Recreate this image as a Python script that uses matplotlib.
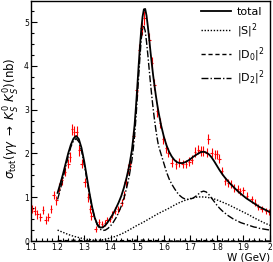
import matplotlib
matplotlib.use('Agg')
import matplotlib.pyplot as plt
from matplotlib.ticker import MultipleLocator

# measured points (W in GeV, cross section in nb)
data_w = [1.104, 1.114, 1.124, 1.135, 1.145, 1.155, 1.165, 1.175, 1.185, 1.195,
          1.205, 1.216, 1.228, 1.240, 1.247, 1.255, 1.262, 1.272, 1.282, 1.291,
          1.302, 1.315, 1.323, 1.327, 1.344, 1.356, 1.367, 1.380, 1.385, 1.397,
          1.405, 1.416, 1.429, 1.441, 1.450, 1.456, 1.466, 1.473, 1.485, 1.498,
          1.507, 1.517, 1.527, 1.545, 1.555, 1.565, 1.575, 1.586, 1.598, 1.608,
          1.617, 1.630, 1.646, 1.658, 1.671, 1.684, 1.696, 1.705, 1.717, 1.730,
          1.739, 1.749, 1.761, 1.768, 1.780, 1.793, 1.801, 1.809, 1.818, 1.830,
          1.843, 1.853, 1.864, 1.878, 1.887, 1.899, 1.914, 1.931, 1.943, 1.956,
          1.969, 1.985, 1.997]
data_sig = [0.73, 0.69, 0.61, 0.55, 0.71, 0.48, 0.55, 0.73, 1.05, 0.93,
            1.22, 1.39, 1.58, 1.77, 1.92, 2.55, 2.50, 2.50, 2.07, 1.77,
            1.34, 1.00, 0.74, 0.58, 0.27, 0.43, 0.39, 0.41, 0.48, 0.50,
            0.60, 0.69, 0.73, 0.88, 1.05, 1.34, 1.64, 1.75, 2.39, 3.45,
            4.36, 4.86, 5.10, 4.59, 4.06, 3.57, 2.96, 2.70, 2.32, 2.13,
            2.02, 1.79, 1.75, 1.80, 1.76, 1.76, 1.81, 1.86, 2.03, 2.09,
            2.05, 2.05, 2.02, 2.33, 2.02, 1.98, 1.98, 1.88, 1.60, 1.37,
            1.33, 1.30, 1.22, 1.18, 1.14, 1.16, 1.03, 0.95, 0.88, 0.77,
            0.74, 0.69, 0.67]
data_err = [0.10, 0.10, 0.10, 0.10, 0.10, 0.09, 0.09, 0.10, 0.10, 0.10,
            0.10, 0.10, 0.10, 0.11, 0.11, 0.13, 0.13, 0.13, 0.12, 0.11,
            0.10, 0.10, 0.09, 0.09, 0.07, 0.07, 0.07, 0.07, 0.07, 0.07,
            0.08, 0.08, 0.08, 0.09, 0.09, 0.10, 0.11, 0.11, 0.13, 0.15,
            0.15, 0.15, 0.16, 0.15, 0.14, 0.13, 0.12, 0.12, 0.11, 0.11,
            0.10, 0.10, 0.10, 0.10, 0.10, 0.10, 0.10, 0.10, 0.11, 0.11,
            0.11, 0.11, 0.11, 0.12, 0.11, 0.10, 0.10, 0.10, 0.10, 0.09,
            0.09, 0.09, 0.09, 0.09, 0.08, 0.08, 0.08, 0.08, 0.07, 0.07,
            0.07, 0.07, 0.07]

# fit curves
fit_w = [1.20, 1.21, 1.22, 1.23, 1.24, 1.25, 1.26, 1.27, 1.28, 1.29,
         1.30, 1.31, 1.32, 1.33, 1.34, 1.35, 1.36, 1.37, 1.38, 1.39,
         1.40, 1.41, 1.42, 1.43, 1.44, 1.45, 1.46, 1.47, 1.48, 1.485,
         1.49, 1.495, 1.50, 1.505, 1.51, 1.515, 1.52, 1.525, 1.53, 1.535,
         1.54, 1.545, 1.55, 1.555, 1.56, 1.565, 1.57, 1.575, 1.58, 1.59,
         1.60, 1.61, 1.62, 1.63, 1.64, 1.65, 1.66, 1.67, 1.68, 1.69,
         1.70, 1.71, 1.72, 1.73, 1.74, 1.75, 1.76, 1.77, 1.78, 1.79,
         1.80, 1.81, 1.82, 1.83, 1.84, 1.85, 1.86, 1.87, 1.88, 1.89,
         1.90, 1.91, 1.92, 1.93, 1.94, 1.95, 1.96, 1.97, 1.98, 1.99, 2.00]
total = [1.10, 1.30, 1.52, 1.76, 2.00, 2.20, 2.34, 2.40, 2.33, 2.13,
         1.83, 1.47, 1.10, 0.78, 0.53, 0.38, 0.31, 0.31, 0.36, 0.44,
         0.53, 0.63, 0.75, 0.88, 1.03, 1.22, 1.45, 1.72, 2.08, 2.35,
         2.65, 3.05, 3.50, 3.98, 4.42, 4.82, 5.12, 5.29, 5.30, 5.15,
         4.90, 4.62, 4.32, 4.04, 3.78, 3.55, 3.33, 3.13, 2.95, 2.64,
         2.39, 2.19, 2.04, 1.93, 1.85, 1.80, 1.78, 1.78, 1.80, 1.83,
         1.87, 1.92, 1.96, 2.00, 2.03, 2.04, 2.02, 1.98, 1.91, 1.82,
         1.72, 1.62, 1.53, 1.45, 1.38, 1.31, 1.25, 1.19, 1.13, 1.08,
         1.03, 0.98, 0.94, 0.90, 0.86, 0.82, 0.78, 0.75, 0.72, 0.69, 0.66]
d2 = [0.95, 1.17, 1.42, 1.68, 1.93, 2.15, 2.29, 2.34, 2.27, 2.07,
      1.77, 1.42, 1.07, 0.76, 0.52, 0.36, 0.27, 0.24, 0.25, 0.29,
      0.35, 0.43, 0.53, 0.65, 0.80, 0.98, 1.21, 1.49, 1.85, 2.10,
      2.40, 2.80, 3.25, 3.72, 4.18, 4.60, 4.85, 4.90, 4.80, 4.55,
      4.25, 3.92, 3.60, 3.30, 3.02, 2.77, 2.55, 2.35, 2.18, 1.98,
      1.78, 1.58, 1.42, 1.30, 1.20, 1.11, 1.04, 0.99, 0.96, 0.95,
      0.96, 0.98, 1.02, 1.07, 1.12, 1.14, 1.12, 1.06, 0.98, 0.90,
      0.82, 0.75, 0.69, 0.64, 0.59, 0.55, 0.51, 0.48, 0.45, 0.42,
      0.40, 0.38, 0.36, 0.34, 0.32, 0.31, 0.29, 0.28, 0.27, 0.26, 0.25]

s_w = [1.20, 1.22, 1.24, 1.26, 1.28, 1.30, 1.32, 1.34, 1.36, 1.38,
       1.40, 1.42, 1.44, 1.46, 1.48, 1.50, 1.52, 1.54, 1.56, 1.58,
       1.60, 1.62, 1.64, 1.66, 1.68, 1.70, 1.72, 1.74, 1.76, 1.78,
       1.80, 1.82, 1.84, 1.86, 1.88, 1.90, 1.92, 1.94, 1.96, 1.98, 2.00]
s_wave = [0.25, 0.20, 0.15, 0.11, 0.08, 0.05, 0.03, 0.02, 0.02, 0.04,
          0.07, 0.11, 0.16, 0.22, 0.29, 0.36, 0.42, 0.49, 0.56, 0.63,
          0.69, 0.75, 0.82, 0.88, 0.93, 0.97, 1.00, 1.01, 1.00, 0.98,
          0.94, 0.89, 0.84, 0.78, 0.72, 0.66, 0.60, 0.53, 0.47, 0.41, 0.36]
d0 = [0.01, 0.01, 0.01, 0.02, 0.01, 0.01, 0.00, 0.00, 0.00, 0.00,
      0.00, 0.00, 0.01, 0.01, 0.01, 0.02, 0.02, 0.01, 0.01, 0.01,
      0.01, 0.00, 0.00, 0.00, 0.00, 0.00, 0.00, 0.01, 0.01, 0.01,
      0.01, 0.00, 0.00, 0.00, 0.00, 0.00, 0.00, 0.00, 0.00, 0.00, 0.00]

fig = plt.figure(figsize=(2.73, 2.62), dpi=100)
ax = fig.add_axes([0.1136, 0.080, 0.8754, 0.916])

ax.errorbar(data_w, data_sig, xerr=0.005, yerr=data_err, fmt='none',
            ecolor='red', elinewidth=0.8, capsize=0)
ax.plot(fit_w, total, color='black', lw=1.3, label='total')
ax.plot(s_w, s_wave, color='black', lw=1.0, linestyle=(0, (1, 1.2)), label='|S|$^2$')
ax.plot(s_w, d0, color='black', lw=1.0, linestyle=(0, (3, 2)), label='|D$_0$|$^2$')
ax.plot(fit_w, d2, color='black', lw=1.0, linestyle=(0, (5, 1.5, 1, 1.5)), label='|D$_2$|$^2$')

ax.set_xlim(1.1, 2.0)
ax.set_ylim(0, 5.48)
ax.xaxis.set_major_locator(MultipleLocator(0.1))
ax.xaxis.set_minor_locator(MultipleLocator(0.02))
ax.yaxis.set_major_locator(MultipleLocator(1))
ax.yaxis.set_minor_locator(MultipleLocator(0.25))
ax.tick_params(which='both', direction='in', labelsize=5.5, width=0.8, pad=1.5)
ax.tick_params(which='major', length=4)
ax.tick_params(which='minor', length=2)
ax.set_xticks([1.1, 1.2, 1.3, 1.4, 1.5, 1.6, 1.7, 1.8, 1.9, 2.0])
ax.set_xticklabels(['1.1', '1.2', '1.3', '1.4', '1.5', '1.6', '1.7', '1.8', '1.9', '2'])
for s in ax.spines.values():
    s.set_linewidth(1.0)

fig.text(0.045, 0.55, r'$\sigma_{\rm tot}(\gamma\gamma\ \rightarrow\ K^0_S\ K^0_S)$(nb)',
         rotation=90, ha='center', va='center', fontsize=8.5)
fig.text(0.989, 0.0, 'W (GeV)', ha='right', va='bottom', fontsize=7.5)

ax.legend(loc='upper right', frameon=False, fontsize=8, handlelength=2.7,
          labelspacing=0.45, borderaxespad=0.1, handletextpad=0.5)

fig.savefig('out.png', dpi=100)
